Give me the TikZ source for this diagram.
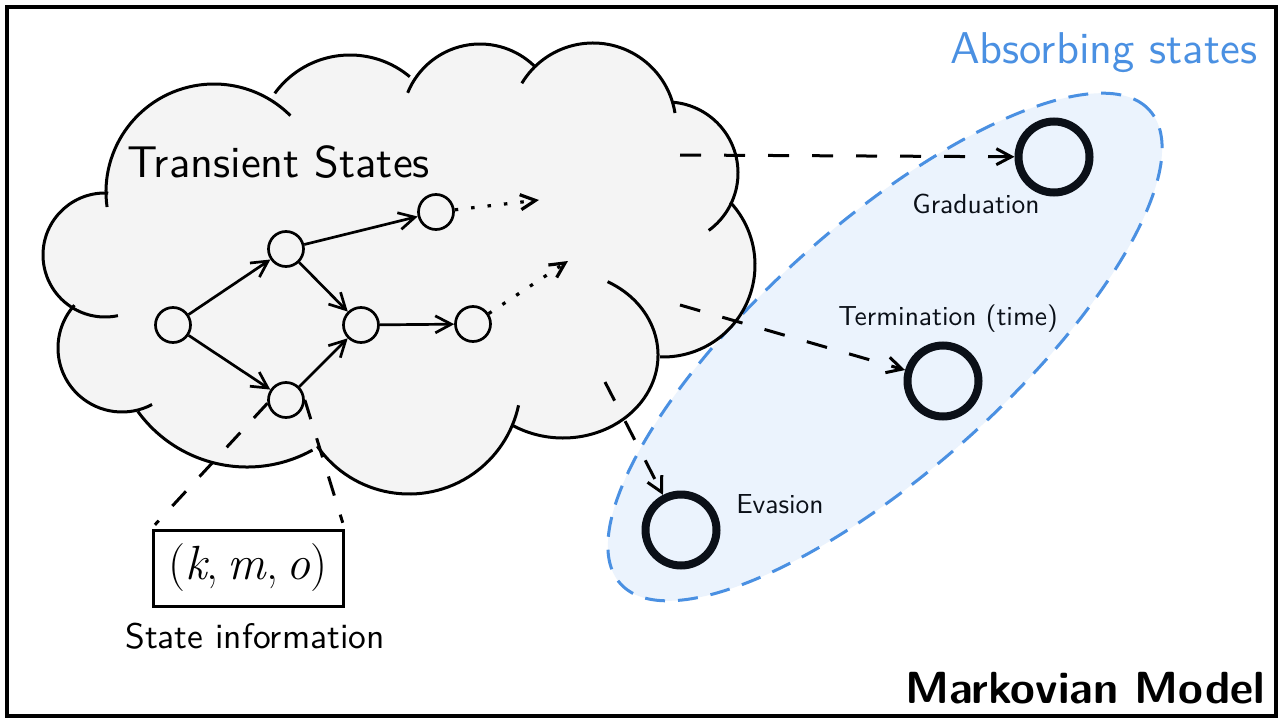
\documentclass[tikz,border=0pt]{standalone}
\usepackage{fontspec}
\setsansfont{lmsans10-regular.otf}[BoldFont=lmsans10-bold.otf]
\usetikzlibrary{arrows.meta}
\definecolor{cloudgray}{HTML}{F4F4F4}
\definecolor{absblue}{HTML}{4A90E2}
\definecolor{absfill}{HTML}{EBF3FD}
\definecolor{absdark}{HTML}{0B1018}
\begin{document}
\begin{tikzpicture}[x=1pt,y=1pt,
  cloudline/.style={line width=3pt,black},
  tnode/.style={circle,draw=black,fill=cloudgray,line width=2.7pt,minimum size=35pt,inner sep=0pt},
  anode/.style={circle,draw=absdark,line width=8pt,minimum size=71pt,inner sep=0pt},
  sarr/.style={line width=2.7pt,-{Straight Barb[length=16pt,width=17pt]}},
  dotarr/.style={line width=3.2pt,dash pattern=on 3.5pt off 13pt,-{Straight Barb[length=15pt,width=15pt]}},
  darr/.style={line width=3pt,dash pattern=on 21pt off 23pt,-{Straight Barb[length=15pt,width=16pt]}},
  infodash/.style={line width=3pt,dash pattern=on 20pt off 20pt},
  lab/.style={font=\sffamily\fontsize{27.5}{32}\selectfont,inner sep=0pt,anchor=base,text=absdark},
  big/.style={font=\sffamily\fontsize{44.5}{52}\selectfont,inner sep=0pt}
]
\useasboundingbox (0,0) rectangle (1283,-723);
\fill[white] (0,0) rectangle (1283,-723);
\draw[line width=3.5pt] (7,-7) rectangle (1276,-716);

% absorbing region
\draw[absblue,fill=absfill,line width=3pt,dash pattern=on 20pt off 13pt,rotate around={41.8:(885,-347)}]
  (885,-347) ellipse[x radius=355pt,y radius=123pt];

% cloud fill
\fill[cloudgray]
  (105,-255) circle[radius=62pt]
  (214,-192) circle[radius=108pt]
  (350,-148) circle[radius=93pt]
  (480,-122) circle[radius=78pt]
  (593,-126) circle[radius=83pt]
  (667,-173) circle[radius=71pt]
  (663,-265) circle[radius=92pt]
  (563,-355) ellipse[x radius=95pt,y radius=83pt]
  (409,-382) circle[radius=112pt]
  (247,-332) circle[radius=135pt]
  (122,-348) circle[radius=64pt];
\fill[cloudgray] (105,-255) -- (214,-192) -- (350,-148) -- (480,-122) -- (593,-126) -- (667,-173)
  -- (663,-265) -- (563,-355) -- (409,-382) -- (247,-332) -- (122,-348) -- cycle;
% cloud outline
\draw[cloudline] (105,-255) ++(87:62pt) arc[start angle=87,end angle=282,radius=62pt];
\draw[cloudline] (214,-192) ++(188:108pt) arc[start angle=188,end angle=45,radius=108pt];
\draw[cloudline] (350,-148) ++(144:93pt) arc[start angle=144,end angle=50,radius=93pt];
\draw[cloudline] (480,-122) ++(158:78pt) arc[start angle=158,end angle=46,radius=78pt];
\draw[cloudline] (593,-126) ++(149:83pt) arc[start angle=149,end angle=9,radius=83pt];
\draw[cloudline] (667,-173) ++(85:71pt) arc[start angle=85,end angle=-54,radius=71pt];
\draw[cloudline] (663,-265) ++(43:92pt) arc[start angle=43,end angle=-92,radius=92pt];
\draw[cloudline] (563,-355) ++(62:95pt and 83pt) arc[start angle=62,end angle=-122,x radius=95pt,y radius=83pt];
\draw[cloudline] (409,-382) ++(215:112pt) arc[start angle=215,end angle=348,radius=112pt];
\draw[cloudline] (247,-332) ++(216:135pt) arc[start angle=216,end angle=299,radius=135pt];
\draw[cloudline] (122,-348) ++(138:64pt) arc[start angle=138,end angle=298,radius=64pt];

\node[big,anchor=base west] (tlabel) at (127,-177) {Transient States};

% transient states
\node[tnode] (n1) at (173,-325) {};
\node[tnode] (n2) at (286,-249) {};
\node[tnode] (n3) at (436,-212) {};
\node[tnode] (n4) at (361,-325) {};
\node[tnode] (n5) at (473,-324) {};
\node[tnode] (n6) at (286,-400) {};
\draw[sarr] (n1) -- (n2);
\draw[sarr] (n1) -- (n6);
\draw[sarr] (n2) -- (n3);
\draw[sarr] (n2) -- (n4);
\draw[sarr] (n6) -- (n4);
\draw[sarr] (n4) -- (n5);
\coordinate (d1) at (539,-200);
\coordinate (d2) at (568,-261);
\draw[dotarr] (n3) -- (d1);
\draw[dotarr] (n5) -- (d2);

% state information
\node[draw,line width=3pt,minimum width=190pt,minimum height=76pt,inner sep=0pt] (info) at (248,-568)
  {\rmfamily\fontsize{48}{54}\selectfont (\textit{k},\hspace{0.18em}\textit{m},\hspace{0.18em}\textit{o})};
\draw[infodash,shorten >=5pt] (n6.190) -- (info.north west);
\draw[infodash,shorten >=6pt] (n6.0) -- (info.north east);
\node[font=\sffamily\fontsize{35.5}{40}\selectfont,inner sep=0pt,anchor=base] (infolabel) at (255,-648) {State information};

% absorbing states
\node[anode] (grad) at (1054,-157) {};
\node[anode] (term) at (943,-381) {};
\node[anode] (evas) at (681,-530) {};
\coordinate (g0) at (680,-155);
\coordinate (t0) at (680,-305);
\coordinate (e0) at (605,-382);
\draw[darr] (g0) -- (grad);
\draw[darr] (t0) -- (term);
\draw[darr] (e0) -- (evas);
\node[lab] (gradlabel) at (976,-213) {Graduation};
\node[lab] (termlabel) at (948,-325) {Termination (time)};
\node[lab] (evaslabel) at (780,-513) {Evasion};

\node[big,anchor=base west,text=absblue] (abslabel) at (950,-63) {Absorbing states};
\node[font=\sffamily\bfseries\fontsize{45}{52}\selectfont,inner sep=0pt,anchor=base east] (model) at (1265,-703) {Markovian Model};
\end{tikzpicture}
\end{document}
